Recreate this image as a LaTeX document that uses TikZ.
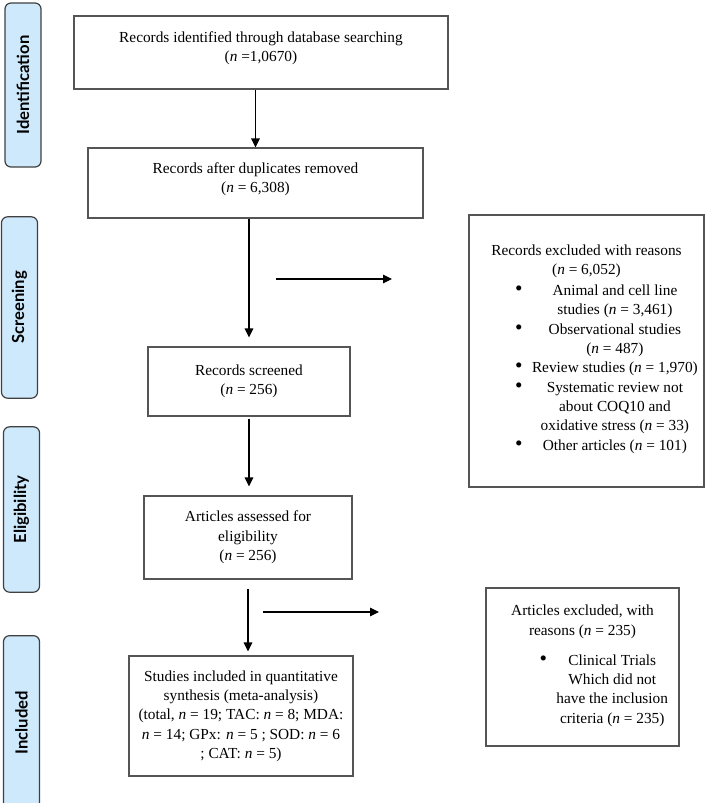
\documentclass[tikz,border=0pt]{standalone}
\usepackage{fontspec}
\setmainfont{Liberation Serif}
\newfontfamily\tagfont{Lato}
\usetikzlibrary{arrows.meta}
\definecolor{tagblue}{HTML}{CDE9FB}
\definecolor{tagline}{HTML}{404040}
\definecolor{boxline}{HTML}{555555}
\newcommand{\nn}{\textit{n}}
\newcommand{\bul}{{\fontsize{16}{14.5}\selectfont\textbullet}}

\begin{document}
\begin{tikzpicture}[x=0.75pt,y=-0.75pt,
    box/.style={draw=boxline,line width=0.8pt,align=center,inner sep=2pt,font=\fontsize{11.5}{14.5}\selectfont},
    phase/.style={rotate=90,draw=tagline,line width=0.9pt,fill=tagblue,rounded corners=4.5pt,
      minimum height=27pt,font=\tagfont\bfseries\fontsize{12.5}{14}\selectfont},
    arr/.style={-{Triangle[length=6.75pt,width=6.5pt]},line width=0.8pt}]
\useasboundingbox (0,0) rectangle (709,803);

\node[phase, minimum width=123pt] (ident) at (23,85) {Identification};
\node[phase, minimum width=136pt] (screen) at (19.5,307.5) {Screening};
\node[phase, minimum width=124pt] (elig) at (21.5,509.5) {Eligibility};
\node[phase, minimum width=131pt] (incl) at (21.5,723) {Included};

\node[box, minimum width=280.5pt, minimum height=54.75pt] (found) at (261,52.5)
  {Records identified through database searching\\ (\nn{} =1,0670)\\[-6pt] \mbox{}};
\node[box, minimum width=251.25pt, minimum height=52.5pt] (dedup) at (255.5,183)
  {Records after duplicates removed\\ (\nn{} = 6,308)\\[-6pt] \mbox{}};
\node[box, minimum width=151.5pt, minimum height=51.75pt] (screened) at (249,381.5)
  {Records screened\\ (\nn{} = 256)};
\node[box, minimum width=156pt, minimum height=62.25pt] (assessed) at (248,537.5)
  {Articles assessed for\\ eligibility\\ (\nn{} = 256)};
\node[box, minimum width=168pt, minimum height=90pt] (included) at (241,716)
  {Studies included in quantitative\\ synthesis (meta-analysis)\\ (total, \nn{} = 19; TAC: \nn{} = 8; MDA:\\
   \nn{} = 14; GPx: \nn{} = 5 ; SOD: \nn{} = 6\\ ; CAT: \nn{} = 5)};

\node[box, minimum width=176.25pt, minimum height=204pt] (recex) at (586.5,351)
  {Records excluded with reasons\\ (\nn{} = 6,052)\\[1pt]
   \hspace*{30pt}\begin{tabular}[t]{@{}c@{\hspace{7pt}}c@{}}
   \bul & Animal and cell line\\
    & studies (\nn{} = 3,461)\\
   \bul & Observational studies\\
    & (\nn{} = 487)\\
   \bul & Review studies (\nn{} = 1,970)\\
   \bul & Systematic review not\\
    & about COQ10 and\\
    & oxidative stress (\nn{} = 33)\\
   \bul & Other articles (\nn{} = 101)
   \end{tabular}\\ \mbox{}};
\node[box, minimum width=144.75pt, minimum height=118.5pt] (artex) at (582.5,667)
  {Articles excluded, with\\ reasons (\nn{} = 235)\\[8pt]
   \hspace*{32pt}\begin{tabular}[t]{@{}c@{\hspace{7pt}}c@{}}
   \bul & Clinical Trials\\
    & Which did not\\
    & have the inclusion\\
    & criteria (\nn{} = 235)
   \end{tabular}};

\coordinate (s1a) at (276,279);
\coordinate (s1b) at (392,279);
\coordinate (s2a) at (263,612);
\coordinate (s2b) at (379,612);

\draw[arr] (found.south -| dedup) -- (dedup.north);
\draw[arr, shorten >=6.75pt] (dedup.south -| screened) -- (screened.north);
\draw[arr, shorten <=1.5pt, shorten >=6.75pt] (screened.south) -- (screened.south |- assessed.north);
\draw[arr, shorten <=6.75pt, shorten >=3pt] (assessed.south) -- (assessed.south |- included.north);
\draw[arr] (s1a) -- (s1b);
\draw[arr] (s2a) -- (s2b);

\end{tikzpicture}
\end{document}
